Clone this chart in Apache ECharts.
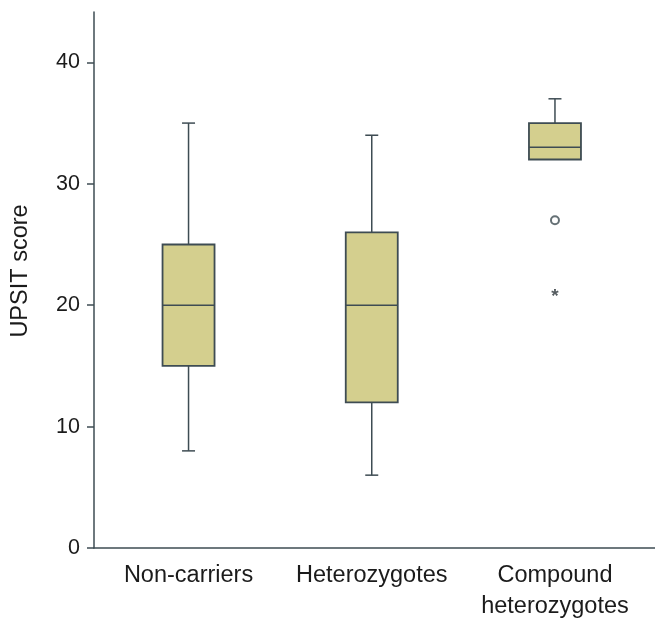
<!DOCTYPE html>
<html>
<head>
<meta charset="utf-8">
<script src="https://cdn.jsdelivr.net/npm/echarts@6/dist/echarts.min.js"></script>
<style>html,body{margin:0;padding:0;background:#fff}#c{width:655px;height:620px}</style>
</head>
<body>
<div id="c"></div>
<script>
const categories = ['Non-carriers', 'Heterozygotes', 'Compound\nheterozygotes'];
// [lower whisker, Q1, median, Q3, upper whisker]
const boxValues = [
  [8, 15, 20, 25, 35],
  [6, 12, 20, 26, 34],
  [32, 32, 33, 35, 37]
];
const circleOutliers = [[2, 27]];
const starOutliers = [[2, 21]];
const yTicks = [0, 10, 20, 30, 40];
const xPositions = [0, 1, 2];

const lineColor = '#3e4c53';
const fillColor = '#d4cf8e';
const textColor = '#1b1b1b';
const chart = echarts.init(document.getElementById('c'));

chart.setOption({
  animation: false,
  grid: { left: 94, right: 0, top: 12, bottom: 72, containLabel: false, outerBoundsMode: 'none' },
  xAxis: {
    type: 'value',
    min: -0.516, max: 2.546,
    splitLine: { show: false },
    axisLine: { onZero: false, lineStyle: { color: lineColor, width: 1.5 } },
    axisTick: { show: false },
    axisLabel: {
      customValues: xPositions,
      formatter: function (v) { return categories[Math.round(v)]; },
      color: textColor, fontSize: 23.5, fontFamily: 'Liberation Sans', margin: 12, lineHeight: 31
    }
  },
  yAxis: {
    type: 'value',
    min: 0, max: 44.15,
    name: 'UPSIT score',
    nameLocation: 'middle',
    nameGap: 61,
    nameTextStyle: { color: textColor, fontSize: 23.5, fontFamily: 'Liberation Sans', padding: [0, 0, 0, 18] },
    splitLine: { show: false },
    axisLine: { show: true, onZero: false, lineStyle: { color: lineColor, width: 1.5 } },
    axisTick: { show: true, length: 7, customValues: yTicks, lineStyle: { color: lineColor, width: 1.5 } },
    axisLabel: { color: textColor, fontSize: 21.5, fontFamily: 'Liberation Sans', margin: 14, customValues: yTicks }
  },
  series: [
    {
      type: 'custom',
      data: boxValues.map((v, i) => [i].concat(v)),
      renderItem: function (params, api) {
        const x = api.value(0);
        const lo = api.coord([x, api.value(1)]);
        const q1 = api.coord([x, api.value(2)]);
        const med = api.coord([x, api.value(3)]);
        const q3 = api.coord([x, api.value(4)]);
        const hi = api.coord([x, api.value(5)]);
        const cx = lo[0];
        const hw = 26, cw = 6.5;
        const st = { stroke: lineColor, lineWidth: 1.5, fill: null };
        const children = [];
        if (hi[1] < q3[1]) {
          children.push({ type: 'line', shape: { x1: cx, y1: q3[1], x2: cx, y2: hi[1] }, style: st });
          children.push({ type: 'line', shape: { x1: cx - cw, y1: hi[1], x2: cx + cw, y2: hi[1] }, style: st });
        }
        if (lo[1] > q1[1]) {
          children.push({ type: 'line', shape: { x1: cx, y1: q1[1], x2: cx, y2: lo[1] }, style: st });
          children.push({ type: 'line', shape: { x1: cx - cw, y1: lo[1], x2: cx + cw, y2: lo[1] }, style: st });
        }
        children.push({ type: 'rect', shape: { x: cx - hw, y: q3[1], width: 2 * hw, height: q1[1] - q3[1] },
          style: { fill: fillColor, stroke: lineColor, lineWidth: 1.8 } });
        children.push({ type: 'line', shape: { x1: cx - hw, y1: med[1], x2: cx + hw, y2: med[1] }, style: st });
        return { type: 'group', children: children };
      },
      encode: { x: 0, y: [1, 2, 3, 4, 5] },
      z: 2
    },
    {
      type: 'scatter',
      data: circleOutliers,
      symbol: 'emptyCircle',
      symbolSize: 8,
      itemStyle: { color: lineColor, borderColor: lineColor, borderWidth: 1.6 },
      z: 3
    },
    {
      type: 'scatter',
      data: starOutliers,
      symbolSize: 0,
      label: { show: true, position: 'inside', formatter: '*', color: '#2a3338', fontSize: 19, fontFamily: 'Liberation Sans', fontWeight: 'bold', offset: [0, 4] },
      z: 3
    }
  ]
});
</script>
</body>
</html>
